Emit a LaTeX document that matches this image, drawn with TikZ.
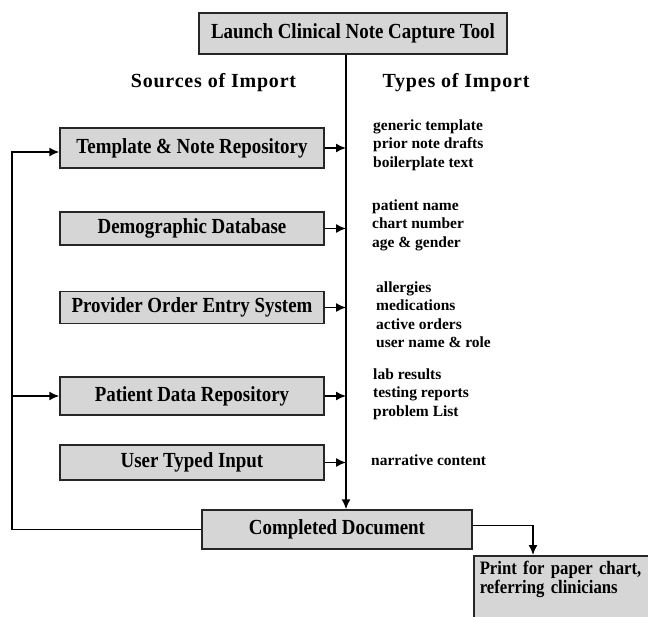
\documentclass[tikz,border=0pt]{standalone}
\usepackage{fontspec}
\setmainfont{Liberation Serif}[FakeStretch=0.88]
\newfontfamily\listfont{Liberation Serif}
\newfontfamily\headfont{Liberation Serif}[LetterSpace=4]
\usetikzlibrary{arrows.meta}

\begin{document}
\begin{tikzpicture}[
  x = 1pt, y = -1pt,
  box/.style = {draw = black!85, line width = 1.5pt, fill = black!16, inner sep = 0pt,
                font = \fontsize{21.5}{22}\selectfont\bfseries},
  head/.style = {font = \headfont\fontsize{20}{22}\selectfont\bfseries},
  list/.style = {anchor = west, align = left, inner sep = 0pt,
                 font = \listfont\fontsize{15.5}{18.5}\selectfont\bfseries},
  arr/.style = {line width = 1.5pt, -{Latex[length = 10pt, width = 9pt]}},
  ]
  \useasboundingbox (0,0) rectangle (648,616);

  \node[box, minimum width = 308pt, minimum height = 41pt] (launch) at (353,33.5) {Launch Clinical Note Capture Tool};
  \node[head] (sources) at (213.5,83) {Sources of Import};
  \node[head] (types) at (456,83) {Types of Import};

  % sources
  \node[box, minimum width = 264pt, minimum height = 40pt] (template) at (192,148) {Template \& Note Repository};
  \node[box, minimum width = 264pt, minimum height = 33pt] (demo) at (192,228.5) {Demographic Database};
  \node[box, minimum width = 264pt, minimum height = 32pt] (cpoe) at (192,307.5) {Provider Order Entry System};
  \node[box, minimum width = 264pt, minimum height = 38pt] (pdr) at (192,396) {Patient Data Repository};
  \node[box, minimum width = 264pt, minimum height = 35pt] (typed) at (192,462.5) {User Typed Input};

  % types
  \node[list] (ttemplate) at (373,145) {generic template\\prior note drafts\\boilerplate text};
  \node[list] (tdemo) at (372,225) {patient name\\chart number\\age \& gender};
  \node[list] (tcpoe) at (376,314.5) {allergies\\medications\\active orders\\user name \& role};
  \node[list] (tpdr) at (373,394) {lab results\\testing reports\\problem List};
  \node[list] (ttyped) at (371,460) {narrative content};

  \node[box, minimum width = 270pt, minimum height = 39pt] (done) at (337,529.5) {Completed Document};
  \node[box, anchor = north west, align = left, inner xsep = 6pt, inner ysep = 5pt,
        text width = 200pt, text depth = 40pt,
        font = \fontsize{19}{19}\selectfont\bfseries] (print) at (473,555) {Print for paper chart,\\referring clinicians};

  \coordinate (trunk) at ([xshift = -7pt]launch.south);
  \draw[arr] (trunk) -- (trunk |- done.north);
  \foreach \src in {template, demo, cpoe, pdr, typed}
    \draw[arr] (\src.east) -- (\src.east -| trunk);

  \coordinate (loop) at (12,152);
  \draw[arr] (done.west) -| (loop) -- ([yshift = -4pt]template.west);
  \draw[arr] (loop |- pdr.west) -- (pdr.west);

  \draw[arr] ([yshift = 4pt]done.east) -| ([xshift = 60pt]print.north west);
\end{tikzpicture}
\end{document}
